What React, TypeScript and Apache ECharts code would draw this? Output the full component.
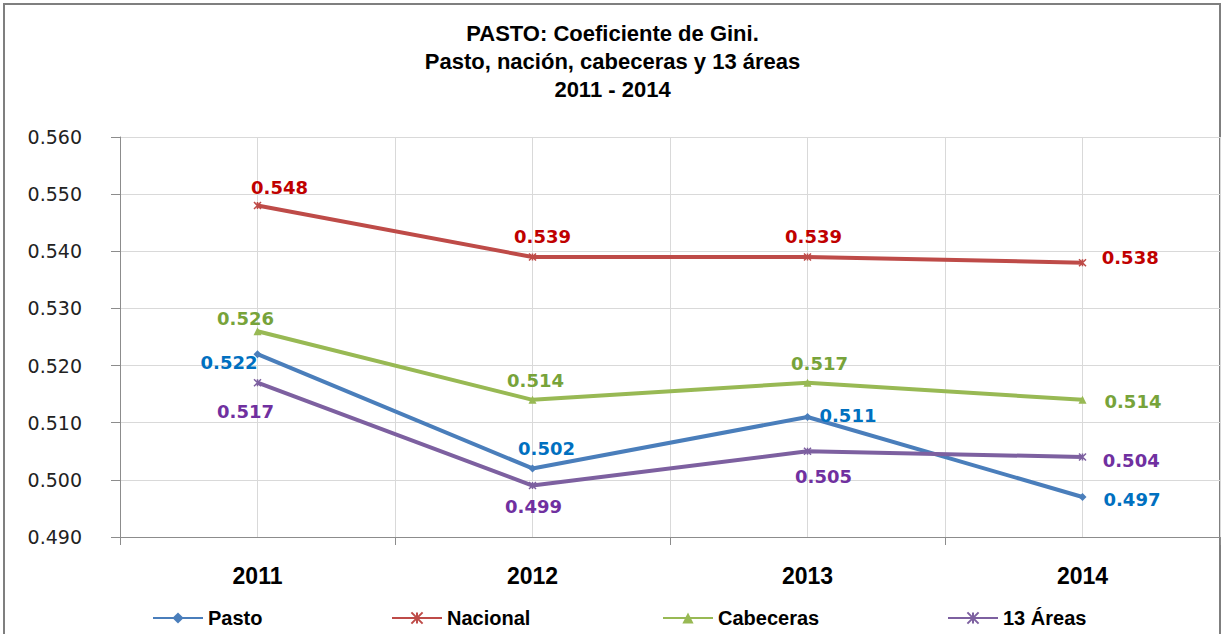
import React, { useEffect, useRef } from "react";
import * as echarts from "echarts";

const categories = ["2011", "2012", "2013", "2014"];
const pasto = [0.522, 0.502, 0.511, 0.497];
const nacional = [0.548, 0.539, 0.539, 0.538];
const cabeceras = [0.526, 0.514, 0.517, 0.514];
const areas13 = [0.517, 0.499, 0.505, 0.504];
const yTicks = { min: 0.49, max: 0.56, interval: 0.01 };
const titleText = "PASTO: Coeficiente de Gini.\nPasto, nación, cabeceras y 13 áreas\n2011 - 2014";

type Place = { position: string; offset: [number, number] };
const pastoLabels: Place[] = [
  { position: "left", offset: [9, 8] },
  { position: "top", offset: [14, -2] },
  { position: "right", offset: [3, -2] },
  { position: "right", offset: [12, 2] },
];
const nacionalLabels: Place[] = [
  { position: "top", offset: [22, 0] },
  { position: "top", offset: [10, -2] },
  { position: "top", offset: [6, -2] },
  { position: "right", offset: [10, -5] },
];
const cabecerasLabels: Place[] = [
  { position: "top", offset: [-12, 5] },
  { position: "top", offset: [3, -1] },
  { position: "top", offset: [12, -1] },
  { position: "right", offset: [13, 2] },
];
const areasLabels: Place[] = [
  { position: "bottom", offset: [-12, 11] },
  { position: "bottom", offset: [1, 3] },
  { position: "bottom", offset: [16, 7] },
  { position: "right", offset: [11, 3] },
];

const xSymbol = "path://M0,0L10,10M10,0L0,10M5,0L5,10";
const narrowBold = "Liberation Sans Narrow, Liberation Sans";

function makeSeries(name: string, values: number[], places: Place[], color: string, labelColor: string, symbol: string, symbolSize: number) {
  return {
    name,
    type: "line",
    xAxisIndex: 0,
    yAxisIndex: 0,
    symbol,
    symbolSize,
    showAllSymbol: true,
    lineStyle: { color, width: 4 },
    itemStyle: { color, borderColor: color, borderWidth: symbol.startsWith("path") ? 1.5 : 0 },
    data: values.map((v, i) => ({
      value: v,
      label: {
        show: true,
        position: places[i].position,
        offset: places[i].offset,
        distance: 5,
        color: labelColor,
        fontFamily: "DejaVu Sans",
        fontWeight: "bold",
        fontSize: 18,
        formatter: (p: any) => Number(p.value).toFixed(3),
      },
    })),
  };
}

export default function App() {
  const ref = useRef<HTMLDivElement>(null);
  useEffect(() => {
    document.body.style.margin = "0";
    const chart = echarts.init(ref.current!, undefined, { renderer: "svg" });
    const legendFont = { fontFamily: narrowBold, fontWeight: "bold", fontSize: 20, color: "#000" };
    const legendLefts = [147, 386, 657, 942];
    const names = ["Pasto", "Nacional", "Cabeceras", "13 Áreas"];
    chart.setOption({
      animation: false,
      backgroundColor: "#fff",
      title: {
        text: titleText,
        left: "center",
        top: 14,
        textStyle: {
          fontFamily: narrowBold,
          fontWeight: "bold",
          fontSize: 22,
          lineHeight: 28,
          color: "#000",
        },
      },
      graphic: [
        {
          type: "rect",
          shape: { x: 4, y: 4, width: 1216, height: 660 },
          style: { fill: "none", stroke: "#7f7f7f", lineWidth: 2 },
          silent: true,
          z: -1,
        },
      ],
      legend: names.map((n, i) => ({
        data: [n],
        left: legendLefts[i],
        top: 603,
        itemWidth: 50,
        itemHeight: 14,
        itemGap: 4,
        textStyle: legendFont,
      })),
      grid: { left: 120, right: 5, top: 137, bottom: 97, containLabel: false },
      xAxis: [
        {
          type: "category",
          data: categories,
          boundaryGap: true,
          axisLine: { lineStyle: { color: "#8c8c8c", width: 1 } },
          axisTick: { show: true, length: 8, lineStyle: { color: "#8c8c8c" } },
          axisLabel: {
            margin: 27,
            fontFamily: narrowBold,
            fontWeight: "bold",
            fontSize: 23,
            color: "#000",
          },
          splitLine: { show: false },
        },
        {
          type: "value",
          min: 0,
          max: 8,
          interval: 1,
          position: "top",
          axisLine: { show: false },
          axisTick: { show: false },
          axisLabel: { show: false },
          splitLine: { show: true, lineStyle: { color: "#d9d9d9", width: 1 } },
        },
      ],
      yAxis: {
        type: "value",
        min: yTicks.min,
        max: yTicks.max,
        interval: yTicks.interval,
        axisLine: { show: true, lineStyle: { color: "#8c8c8c", width: 1 } },
        axisTick: { show: true, length: 9, lineStyle: { color: "#8c8c8c" } },
        axisLabel: {
          margin: 38,
          fontFamily: "DejaVu Sans",
          fontSize: 19,
          color: "#222",
          formatter: (v: number) => v.toFixed(3),
        },
        splitLine: { show: true, lineStyle: { color: "#d9d9d9", width: 1 } },
      },
      series: [
        makeSeries("Pasto", pasto, pastoLabels, "#4a7ebb", "#0070c0", "diamond", 8),
        makeSeries("Nacional", nacional, nacionalLabels, "#be4b48", "#c00000", xSymbol, 7),
        makeSeries("Cabeceras", cabeceras, cabecerasLabels, "#98b954", "#77a33a", "triangle", 8),
        makeSeries("13 Áreas", areas13, areasLabels, "#7d60a0", "#7030a0", xSymbol, 7),
      ],
    });
    return () => chart.dispose();
  }, []);
  return <div ref={ref} style={{ width: 1225, height: 634 }} />;
}
